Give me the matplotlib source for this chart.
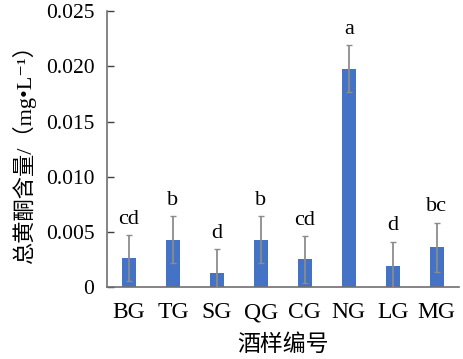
import matplotlib
matplotlib.use("Agg")
import matplotlib.pyplot as plt
import numpy as np

categories = ["BG", "TG", "SG", "QG", "CG", "NG", "LG", "MG"]
values = [0.0026, 0.0043, 0.0013, 0.0043, 0.0025, 0.0198, 0.0019, 0.0036]
errors = [0.0021, 0.0021, 0.0021, 0.0021, 0.0021, 0.0021, 0.0022, 0.0022]
letters = ["cd", "b", "d", "b", "cd", "a", "d", "bc"]
yticks = [0, 0.005, 0.010, 0.015, 0.020, 0.025]
ytick_labels = ["0", "0.005", "0.010", "0.015", "0.020", "0.025"]

plt.rcParams["font.family"] = ["Liberation Serif", "Noto Sans CJK SC", "DejaVu Sans"]

fig = plt.figure(figsize=(4.63, 3.59), dpi=100)
ax = fig.add_axes([0.231, 0.2006, 0.76, 0.768])
x = np.arange(len(categories))
ax.bar(x, values, width=0.31, color="#4472C4", zorder=2)
ax.errorbar(x, values, yerr=errors, fmt="none", ecolor="#8c8c8c", elinewidth=1.3,
            capsize=2.5, capthick=1.0, zorder=3)
for xi, v, e, l in zip(x, values, errors, letters):
    ax.text(xi, v + e + 0.0006, l, ha="center", va="bottom", fontsize=16)

ax.set_xlim(-0.5, len(categories) - 0.5)
ax.set_ylim(0, 0.025)
ax.set_yticks(yticks)
ax.set_yticklabels(ytick_labels)
ax.set_xticks(x)
ax.set_xticklabels(categories)
ax.tick_params(axis="y", labelsize=15.5, length=5, direction="in", color="#404040",
               width=1, pad=9)
ax.tick_params(axis="x", labelsize=17, length=0, pad=11)
for s in ["top", "right"]:
    ax.spines[s].set_visible(False)
for s in ["left", "bottom"]:
    ax.spines[s].set_color("#707070")
    ax.spines[s].set_linewidth(1.2)
ax.set_xlabel("酒样编号", fontsize=16.5, labelpad=8)
ax.set_ylabel("总黄酮含量/（mg•L⁻¹）", fontsize=16, labelpad=7)

fig.savefig("out.png", dpi=100)
